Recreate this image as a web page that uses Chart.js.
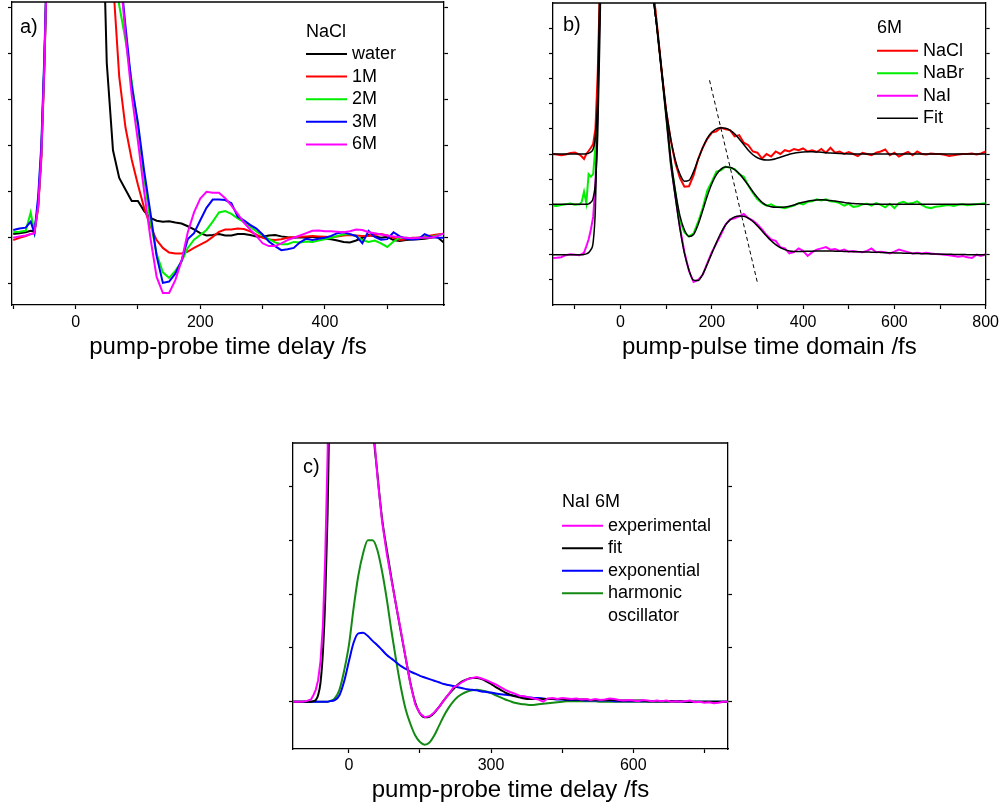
<!DOCTYPE html>
<html>
<head>
<meta charset="utf-8">
<script src="https://cdn.jsdelivr.net/npm/chart.js@4.4.0/dist/chart.umd.min.js"></script>
<style>
  html, body { margin: 0; width: 1003px; height: 809px; overflow: hidden; background: #fff; }
  canvas { position: absolute; }
</style>
</head>
<body>
<canvas id="panelA" width="470" height="365" style="left:0;top:0"></canvas>
<canvas id="panelB" width="463" height="365" style="left:540px;top:0"></canvas>
<canvas id="panelC" width="480" height="379" style="left:270px;top:430px"></canvas>
<script>
// ---- a) NaCl concentration series, delay in fs ----
const tA = [-100, -90, -80, -72, -66, -60, -55, -50, -45, -40, 0, 40,
  50, 60, 70, 80, 90, 100, 110, 120, 130, 140,
  150, 160, 170, 180, 190, 200, 210, 220, 230, 240,
  250, 260, 270, 280, 290, 300, 310, 320, 330, 340,
  350, 360, 370, 380, 390, 400, 410, 420, 430, 440,
  450, 460, 470, 480, 490, 500, 510, 520, 530, 540,
  550, 560, 570, 580, 590];
const water = [0.08, 0.10, 0.12, 0.15, 0.14, 0.70, 1.80, 3.80, 6.50, 9.0, 20, 9.0,
  3.8, 1.9, 1.3, 1.05, 0.8, 0.8, 0.58, 0.43, 0.37, 0.35,
  0.36, 0.33, 0.31, 0.25, 0.18, 0.10, 0.05, 0.06, 0.08, 0.05,
  0.05, 0.08, 0.08, 0.06, 0.03, 0.02, 0.05, 0.06, 0.03, 0.01,
  0.00, 0.01, 0.00, 0.02, 0.00, -0.02, -0.03, -0.06, -0.09, -0.10,
  -0.06, 0.00, 0.06, 0.03, 0.00, 0.02, -0.05, -0.07, -0.05, -0.04,
  -0.03, -0.02, 0.00, 0.02, -0.10];
const nacl1M = [-0.05, 0.00, 0.04, 0.08, 0.10, 0.65, 1.70, 3.70, 6.50, 9.0, 20, 14,
  8.0, 5.6, 3.5, 2.4, 1.7, 1.15, 0.65, 0.25, -0.05, -0.22,
  -0.32, -0.34, -0.34, -0.30, -0.22, -0.15, -0.08, 0.02, 0.13, 0.18,
  0.18, 0.20, 0.19, 0.14, 0.07, 0.00, -0.04, -0.05, -0.03, 0.00,
  0.01, 0.02, 0.03, 0.04, 0.03, 0.02, 0.01, 0.03, 0.05, 0.06,
  0.05, 0.04, 0.04, 0.06, 0.08, 0.05, 0.00, -0.05, -0.03, 0.00,
  0.00, 0.03, 0.05, 0.07, 0.09];
const nacl2M = [0.12, 0.13, 0.15, 0.55, 0.12, 0.75, 1.90, 3.90, 6.50, 9.0, 20, 14,
  10, 6.0, 5.05, 4.3, 3.4, 2.4, 1.3, 0.35, -0.35, -0.75,
  -0.87, -0.72, -0.52, -0.22, -0.04, 0.06, 0.17, 0.35, 0.55, 0.58,
  0.52, 0.42, 0.34, 0.24, 0.14, 0.05, -0.03, -0.10, -0.14, -0.14,
  -0.09, -0.10, -0.08, -0.09, -0.06, -0.03, 0.00, 0.04, 0.07, 0.08,
  0.03, -0.05, -0.09, -0.06, -0.12, -0.20, -0.08, 0.00, 0.00, -0.01,
  0.00, 0.01, 0.02, 0.05, 0.08];
const nacl3M = [0.17, 0.20, 0.22, 0.35, 0.10, 0.90, 2.00, 4.00, 6.50, 9.0, 20, 14,
  10, 8.0, 6.0, 4.6, 3.3, 2.5, 1.45, 0.55, -0.40, -0.98,
  -0.95, -0.78, -0.50, -0.03, 0.10, 0.38, 0.65, 0.83, 0.83, 0.82,
  0.75, 0.46, 0.38, 0.28, 0.20, 0.07, -0.08, -0.18, -0.27, -0.25,
  -0.22, -0.10, -0.02, -0.05, -0.02, 0.00, 0.04, 0.10, 0.12, 0.08,
  0.04, -0.12, 0.15, 0.02, -0.04, -0.03, 0.12, 0.03, -0.02, -0.04,
  -0.03, 0.08, 0.02, 0.00, 0.00];
const nacl6M = [0.00, 0.03, 0.05, 0.08, 0.10, 0.70, 1.80, 3.80, 6.50, 9.0, 20, 14,
  10, 8.5, 6.0, 4.4, 3.1, 2.1, 1.0, 0.0, -0.85, -1.20,
  -1.20, -0.92, -0.50, 0.12, 0.55, 0.85, 1.00, 0.98, 0.98, 0.86,
  0.70, 0.52, 0.33, 0.18, 0.04, -0.12, -0.18, -0.18, -0.12, -0.05,
  0.00, 0.05, 0.10, 0.15, 0.16, 0.14, 0.14, 0.13, 0.12, 0.14,
  0.18, 0.17, 0.12, 0.10, 0.07, 0.05, 0.03, 0.01, 0.00, -0.01,
  0.00, 0.00, 0.00, 0.04, 0.09];
const ticksA = [-100, 0, 100, 200, 300, 400, 500];
const labelsA = [0, 200, 400];
const levelsA = [-1, 0, 1, 2, 3, 4, 5];

// ---- b) 6M halides, traces offset by 2 units, with fits ----
const tB = [-150, -140, -130, -120, -110, -100, -90, -85, -80, -75, -70, -65, -60, -55, -50, -45, -40,
  0, 40, 70,
  80, 90, 100, 110, 120, 130, 140, 150, 160, 170,
  180, 190, 200, 210, 220, 230, 240, 250, 260, 270,
  280, 290, 300, 310, 320, 330, 340, 350, 360, 370,
  380, 390, 400, 410, 420, 430, 440, 450, 460, 470,
  480, 490, 500, 510, 520, 530, 540, 550, 560, 570,
  580, 590, 600, 610, 620, 630, 640, 650, 660, 670,
  680, 690, 700, 710, 720, 730, 740, 750, 760, 770,
  780, 790, 800];
const naclB = [4.00, 3.98, 3.95, 3.98, 4.04, 4.06, 3.98, 3.90, 3.80, 4.00, 4.12, 4.25, 4.40, 5.00, 7.20, 10.8, 14,
  30, 25, 10.8,
  9.1, 7.3, 5.7, 4.55, 3.65, 3.05, 2.70, 2.72, 3.15, 3.80,
  4.25, 4.60, 4.85, 4.90, 5.05, 4.98, 4.95, 4.70, 4.75, 4.45,
  4.35, 4.10, 4.05, 3.82, 4.00, 3.90, 4.10, 4.00, 4.15, 4.10,
  4.20, 4.15, 4.22, 4.10, 4.15, 4.08, 4.20, 4.05, 4.25, 4.05,
  4.10, 4.00, 4.08, 4.00, 3.92, 4.05, 4.00, 3.95, 4.05, 4.10,
  4.18, 3.95, 4.05, 3.90, 4.00, 4.08, 3.95, 4.10, 4.00, 3.98,
  4.02, 4.00, 4.00, 3.97, 3.92, 3.95, 3.98, 4.00, 4.00, 4.02,
  3.98, 4.02, 4.10];
const naclFit = [4.00, 4.00, 4.00, 4.00, 4.00, 4.00, 4.00, 4.00, 4.00, 4.01, 4.03, 4.08, 4.20, 4.70, 6.30, 10.2, 14,
  30, 25, 10.8,
  9.0, 7.3, 5.75, 4.6, 3.75, 3.2, 2.92, 2.95, 3.3, 3.78,
  4.25, 4.62, 4.86, 5.00, 5.04, 5.02, 4.94, 4.80, 4.60, 4.38,
  4.15, 3.97, 3.85, 3.78, 3.76, 3.77, 3.81, 3.87, 3.93, 3.99,
  4.03, 4.06, 4.08, 4.09, 4.09, 4.08, 4.07, 4.05, 4.04, 4.03,
  4.02, 4.01, 4.00, 4.00, 4.00, 4.00, 4.00, 4.00, 4.00, 4.00,
  4.00, 4.00, 4.00, 4.00, 4.00, 4.00, 4.00, 4.00, 4.00, 4.00,
  4.00, 4.00, 4.00, 4.00, 4.00, 4.00, 4.00, 4.00, 4.00, 4.00,
  4.00, 4.00, 4.00];
const nabrB = [1.95, 1.93, 1.97, 2.00, 2.03, 1.98, 2.00, 2.10, 2.50, 2.05, 3.20, 3.10, 3.20, 4.30, 6.50, 10.5, 14,
  30, 25, 10.8,
  9.0, 7.3, 5.5, 3.7, 2.45, 1.35, 0.88, 0.72, 0.85, 1.30,
  1.85, 2.55, 2.90, 3.30, 3.35, 3.50, 3.45, 3.40, 3.20, 3.10,
  2.75, 2.45, 2.20, 2.05, 1.95, 2.00, 1.90, 1.88, 1.85, 1.90,
  1.95, 2.05, 2.00, 2.10, 2.12, 2.20, 2.15, 2.20, 2.12, 2.10,
  2.05, 1.95, 2.02, 1.90, 1.92, 2.00, 2.02, 1.95, 2.05, 1.98,
  1.88, 2.02, 1.85, 2.05, 2.10, 2.02, 2.05, 2.12, 1.98, 1.88,
  1.85, 1.90, 1.92, 1.95, 1.97, 1.93, 1.98, 2.00, 1.96, 1.98,
  2.00, 2.02, 2.04];
const nabrFit = [2.00, 2.00, 2.00, 2.00, 2.00, 2.00, 2.00, 2.00, 2.00, 2.00, 2.02, 2.08, 2.25, 2.90, 4.80, 9.0, 14,
  30, 25, 10.8,
  9.0, 7.3, 5.55, 3.85, 2.55, 1.55, 0.98, 0.72, 0.80, 1.20,
  1.75, 2.33, 2.82, 3.18, 3.40, 3.48, 3.47, 3.38, 3.22, 3.00,
  2.76, 2.50, 2.27, 2.08, 1.96, 1.90, 1.88, 1.88, 1.89, 1.92,
  1.97, 2.03, 2.08, 2.12, 2.15, 2.17, 2.18, 2.17, 2.15, 2.13,
  2.10, 2.07, 2.05, 2.03, 2.02, 2.01, 2.00, 2.00, 2.00, 2.00,
  2.00, 2.00, 2.00, 2.00, 2.00, 2.00, 2.00, 2.00, 2.00, 2.00,
  2.00, 2.00, 2.00, 2.00, 2.00, 2.00, 2.00, 2.00, 2.00, 2.00,
  2.00, 2.00, 2.00];
const naiB = [-0.13, -0.12, -0.10, -0.02, 0.02, 0.00, -0.02, 0.02, 0.08, 0.33, 0.60, 1.00, 1.50, 2.80, 6.00, 10.5, 14,
  30, 25, 10.8,
  9.0, 7.3, 5.5, 3.6, 2.35, 1.10, 0.10, -0.65, -1.08, -1.00,
  -0.80, -0.35, 0.10, 0.45, 0.80, 1.20, 1.40, 1.45, 1.52, 1.62,
  1.45, 1.35, 1.20, 1.00, 0.78, 0.60, 0.55, 0.30, 0.25, 0.05,
  0.10, 0.25, 0.15, -0.05, 0.10, 0.20, 0.25, 0.30, 0.20, 0.22,
  0.15, 0.20, 0.12, 0.15, 0.12, 0.10, 0.15, 0.25, 0.10, 0.12,
  0.10, 0.05, 0.12, 0.20, 0.15, 0.10, 0.05, 0.08, 0.05, 0.08,
  0.05, 0.03, 0.02, 0.00, -0.02, -0.05, -0.08, -0.05, -0.10, -0.13,
  0.00, -0.05, 0.02];
const naiFit = [0.00, 0.00, 0.00, 0.00, 0.00, 0.00, 0.00, 0.00, 0.01, 0.03, 0.08, 0.20, 0.50, 1.90, 6.00, 11.0, 14,
  30, 25, 10.8,
  9.0, 7.3, 5.5, 3.65, 2.30, 1.05, 0.05, -0.62, -1.02, -1.03,
  -0.78, -0.38, 0.05, 0.48, 0.87, 1.18, 1.38, 1.50, 1.54, 1.53,
  1.45, 1.32, 1.14, 0.94, 0.74, 0.55, 0.40, 0.28, 0.20, 0.15,
  0.13, 0.13, 0.13, 0.14, 0.14, 0.15, 0.15, 0.15, 0.15, 0.14,
  0.14, 0.13, 0.13, 0.12, 0.12, 0.11, 0.11, 0.10, 0.10, 0.09,
  0.08, 0.08, 0.07, 0.07, 0.06, 0.06, 0.05, 0.05, 0.04, 0.04,
  0.03, 0.03, 0.02, 0.02, 0.02, 0.01, 0.01, 0.01, 0.00, 0.00,
  0.00, 0.00, 0.00];
// guide through the oscillation maxima
const peakGuideT = [195, 300];
const peakGuideY = [6.93, -1.12];
const ticksB = [-100, 0, 100, 200, 300, 400, 500, 600, 700, 800];
const labelsB = [0, 200, 400, 600, 800];
const levelsB = [-1, 0, 1, 2, 3, 4, 5, 6, 7, 8, 9];

// ---- c) NaI 6M decomposed into exponential + damped oscillator ----
const tC = [-120, -110, -100, -90, -80, -75, -70, -65, -60, -55, -50, -45, -40,
  -30, -20, -10, 0, 10, 20, 30, 40, 50,
  60, 70, 80, 90, 100, 110, 120, 130, 140, 150,
  160, 170, 180, 190, 200, 210, 220, 230, 240, 250,
  260, 270, 280, 290, 300, 310, 320, 330, 340, 350,
  360, 370, 380, 390, 400, 410, 420, 430, 440, 450,
  460, 470, 480, 490, 500, 510, 520, 530, 540, 550,
  560, 570, 580, 590, 600, 610, 620, 630, 640, 650,
  660, 670, 680, 690, 700, 710, 720, 730, 740, 750,
  760, 770, 780, 790, 800];
const naiExp = [0.00, 0.00, 0.00, 0.01, 0.04, 0.12, 0.22, 0.40, 0.75, 1.40, 2.70, 4.60, 7.0,
  12, 15, 17, 18, 17, 15, 11, 8.0, 5.3,
  4.2, 3.35, 2.75, 2.25, 1.77, 1.30, 0.80, 0.32, -0.05, -0.22,
  -0.29, -0.27, -0.20, -0.10, 0.02, 0.13, 0.26, 0.31, 0.37, 0.42,
  0.44, 0.46, 0.43, 0.40, 0.36, 0.32, 0.27, 0.22, 0.18, 0.15,
  0.11, 0.10, 0.08, 0.06, 0.04, 0.00, 0.06, 0.07, 0.05, 0.07,
  0.06, 0.05, 0.06, 0.04, 0.05, 0.03, 0.05, 0.03, 0.04, 0.06,
  0.05, 0.03, 0.02, 0.03, 0.02, 0.01, 0.03, 0.02, 0.01, 0.02,
  0.01, 0.02, 0.00, 0.01, 0.00, 0.01, 0.02, -0.01, 0.00, -0.02,
  -0.01, -0.03, -0.02, 0.00, 0.00];
const naiModel = [0.00, 0.00, 0.00, 0.00, 0.00, 0.01, 0.03, 0.12, 0.35, 0.90, 1.90, 3.50, 6.0,
  12, 15, 17, 18, 17, 15, 11, 8.0, 5.3,
  4.25, 3.4, 2.82, 2.28, 1.77, 1.28, 0.80, 0.34, -0.02, -0.22,
  -0.29, -0.28, -0.21, -0.10, 0.02, 0.13, 0.23, 0.32, 0.38, 0.42,
  0.44, 0.44, 0.42, 0.38, 0.33, 0.27, 0.22, 0.17, 0.13, 0.10,
  0.08, 0.06, 0.05, 0.05, 0.05, 0.05, 0.05, 0.05, 0.05, 0.05,
  0.04, 0.04, 0.04, 0.04, 0.04, 0.03, 0.03, 0.03, 0.03, 0.03,
  0.03, 0.02, 0.02, 0.02, 0.02, 0.02, 0.02, 0.01, 0.01, 0.01,
  0.01, 0.01, 0.01, 0.01, 0.01, 0.00, 0.00, 0.00, 0.00, 0.00,
  0.00, 0.00, 0.00, 0.00, 0.00];
const expPart = [0, 0, 0, 0, 0, 0, 0, 0, 0, 0, 0, 0.00, 0.01,
  0.03, 0.12, 0.38, 0.75, 1.10, 1.27, 1.28, 1.22, 1.13,
  1.05, 0.96, 0.87, 0.80, 0.73, 0.66, 0.61, 0.56, 0.52, 0.48,
  0.45, 0.42, 0.39, 0.36, 0.33, 0.31, 0.29, 0.27, 0.25, 0.23,
  0.22, 0.21, 0.19, 0.18, 0.17, 0.15, 0.14, 0.13, 0.12, 0.11,
  0.10, 0.09, 0.08, 0.07, 0.07, 0.06, 0.05, 0.05, 0.04, 0.04,
  0.03, 0.03, 0.03, 0.03, 0.02, 0.02, 0.02, 0.02, 0.02, 0.02,
  0.01, 0.01, 0.01, 0.01, 0.01, 0.01, 0.01, 0.01, 0.01, 0.01,
  0.01, 0.01, 0.01, 0.01, 0.00, 0.00, 0.00, 0.00, 0.00, 0.00,
  0, 0, 0, 0, 0];
const oscPart = [0, 0, 0, 0, 0, 0, 0, 0, 0, 0, 0, 0.00, 0.01,
  0.06, 0.22, 0.58, 1.05, 1.75, 2.35, 2.76, 3.00, 3.00,
  2.82, 2.42, 1.90, 1.30, 0.75, 0.25, -0.15, -0.42, -0.63, -0.75,
  -0.80, -0.76, -0.63, -0.45, -0.27, -0.12, 0.00, 0.09, 0.15, 0.19,
  0.21, 0.22, 0.21, 0.19, 0.16, 0.12, 0.08, 0.04, 0.01, -0.02,
  -0.04, -0.05, -0.06, -0.06, -0.05, -0.04, -0.03, -0.02, -0.01, 0.00,
  0.01, 0.01, 0.01, 0.01, 0.01, 0.01, 0.01, 0.00, 0.00, 0.00,
  0, 0, 0, 0, 0, 0, 0, 0, 0, 0,
  0, 0, 0, 0, 0, 0, 0, 0, 0, 0,
  0, 0, 0, 0, 0];
const ticksC = [0, 150, 300, 450, 600, 750];
const labelsC = [0, 300, 600];
const levelsC = [0, 1, 2, 3, 4];

const FONT = '"Liberation Sans", Arial, Helvetica, sans-serif';
Chart.defaults.font.family = FONT;
Chart.defaults.color = '#000';

const RED = '#ff0000', GREEN = '#00ee00', BLUE = '#0000ff', MAGENTA = '#ff00ff', DKGREEN = '#138a13';

function trace(label, t, v, color, width, extra) {
  return Object.assign({
    label,
    data: t.map((x, i) => ({ x, y: v[i] })),
    borderColor: color,
    borderWidth: width,
    pointRadius: 0,
    fill: false,
    tension: 0
  }, extra || {});
}

// box axes: ticks outside on left/right/bottom, labels on x only
function boxScales(o) {
  const grid = { drawOnChartArea: false, drawTicks: true, tickLength: 4, tickWidth: 1.2, tickColor: '#000' };
  const border = { display: true, color: '#000', width: 1.3 };
  const setLevels = s => { s.ticks = o.levels.map(value => ({ value })); };
  return {
    x: {
      type: 'linear', position: 'bottom', min: o.xMin, max: o.xMax,
      afterBuildTicks: s => { s.ticks = o.xTicks.map(value => ({ value })); },
      afterFit: s => { s.height = o.bottom; },
      grid, border,
      ticks: {
        autoSkip: false, maxRotation: 0, padding: o.tickPad, font: { size: 16 },
        callback: v => (o.xLabels.includes(v) ? String(v) : '')
      },
      title: { display: true, text: o.title, font: { size: 24 }, padding: { top: 0, bottom: o.titlePad } }
    },
    y: {
      type: 'linear', position: 'left', min: o.yMin, max: o.yMax,
      afterBuildTicks: setLevels,
      afterFit: s => { s.width = o.left; },
      grid, border, ticks: { display: false }
    },
    yRight: {
      type: 'linear', position: 'right', min: o.yMin, max: o.yMax,
      afterBuildTicks: setLevels,
      afterFit: s => { s.width = o.right; },
      grid, border, ticks: { display: false }
    }
  };
}

// top edge of the frame, panel tag and the hand-placed legend
const panelDecor = {
  id: 'panelDecor',
  afterDraw(chart, args, opts) {
    const { ctx, chartArea: a } = chart;
    ctx.save();
    ctx.strokeStyle = '#000';
    ctx.lineWidth = 1.3;
    ctx.beginPath();
    ctx.moveTo(a.left, a.top);
    ctx.lineTo(a.right, a.top);
    ctx.stroke();

    ctx.fillStyle = '#000';
    ctx.textBaseline = 'middle';
    ctx.font = '20px ' + FONT;
    ctx.fillText(opts.tag, opts.tagX, opts.tagY);

    ctx.font = '18px ' + FONT;
    ctx.fillText(opts.title, opts.x, opts.titleY);
    let y = opts.y;
    chart.data.datasets.forEach(ds => {
      if (!ds.legendText) return;
      ctx.strokeStyle = ds.borderColor;
      ctx.lineWidth = ds.borderWidth;
      ctx.beginPath();
      ctx.moveTo(opts.x, y);
      ctx.lineTo(opts.x + 41, y);
      ctx.stroke();
      ds.legendText.forEach((txt, k) => ctx.fillText(txt, opts.x + 46, y + k * opts.rowH));
      y += opts.rowH * ds.legendText.length;
    });
    ctx.restore();
  }
};

function makePanel(id, datasets, scaleOpts, decor, topPad) {
  return new Chart(document.getElementById(id), {
    type: 'line',
    data: { datasets },
    options: {
      responsive: false,
      animation: false,
      devicePixelRatio: 1,
      layout: { padding: { top: topPad, left: 0, right: 0, bottom: 0 } },
      plugins: { legend: { display: false }, tooltip: { enabled: false }, panelDecor: decor },
      scales: boxScales(scaleOpts)
    },
    plugins: [panelDecor]
  });
}

makePanel('panelA', [
  trace('water', tA, water, '#000000', 2, { order: 4, legendText: ['water'] }),
  trace('1M', tA, nacl1M, RED, 2, { order: 3, legendText: ['1M'] }),
  trace('2M', tA, nacl2M, GREEN, 2, { order: 2, legendText: ['2M'] }),
  trace('3M', tA, nacl3M, BLUE, 2, { order: 1, legendText: ['3M'] }),
  trace('6M', tA, nacl6M, MAGENTA, 2, { order: 0, legendText: ['6M'] })
], {
  xMin: -102, xMax: 591, xTicks: ticksA, xLabels: labelsA,
  yMin: -1.46, yMax: 5.12, levels: levelsA,
  left: 12, right: 26, bottom: 60, tickPad: 4, titlePad: 3,
  title: 'pump-probe time delay /fs'
}, { tag: 'a)', tagX: 20, tagY: 27, title: 'NaCl', x: 306, titleY: 32, y: 54, rowH: 22.6 }, 2);

makePanel('panelB', [
  trace('NaCl', tB, naclB, RED, 2, { order: 2, legendText: ['NaCl'] }),
  trace('NaBr', tB, nabrB, GREEN, 2, { order: 2, legendText: ['NaBr'] }),
  trace('NaI', tB, naiB, MAGENTA, 2, { order: 2, legendText: ['NaI'] }),
  trace('Fit', tB, naclFit, '#000000', 1.5, { order: 1, legendText: ['Fit'], cubicInterpolationMode: 'monotone' }),
  trace('Fit NaBr', tB, nabrFit, '#000000', 1.5, { order: 1, cubicInterpolationMode: 'monotone' }),
  trace('Fit NaI', tB, naiFit, '#000000', 1.5, { order: 1, cubicInterpolationMode: 'monotone' }),
  trace('maxima', peakGuideT, peakGuideY, '#000000', 1, { order: 0, borderDash: [4, 3] })
], {
  xMin: -148, xMax: 800, xTicks: ticksB, xLabels: labelsB,
  yMin: -2, yMax: 10, levels: levelsB,
  left: 13, right: 16, bottom: 60, tickPad: 4, titlePad: 3,
  title: 'pump-pulse time domain /fs'
}, { tag: 'b)', tagX: 23, tagY: 25, title: '6M', x: 337, titleY: 28, y: 50.7, rowH: 22.5 }, 3);

makePanel('panelC', [
  trace('experimental', tC, naiExp, MAGENTA, 2, { order: 0, legendText: ['experimental'] }),
  trace('fit', tC, naiModel, '#000000', 2, { order: 1, legendText: ['fit'], cubicInterpolationMode: 'monotone' }),
  trace('exponential', tC, expPart, BLUE, 2, { order: 2, legendText: ['exponential'], cubicInterpolationMode: 'monotone' }),
  trace('harmonic oscillator', tC, oscPart, DKGREEN, 2, { order: 3, legendText: ['harmonic', 'oscillator'], cubicInterpolationMode: 'monotone' })
], {
  xMin: -118, xMax: 800, xTicks: ticksC, xLabels: labelsC,
  yMin: -0.88, yMax: 4.81, levels: levelsC,
  left: 23, right: 22, bottom: 60, tickPad: 3, titlePad: 4,
  title: 'pump-probe time delay /fs'
}, { tag: 'c)', tagX: 33, tagY: 37.5, title: 'NaI 6M', x: 292, titleY: 72.5, y: 95.7, rowH: 22.5 }, 13);
</script>
</body>
</html>
